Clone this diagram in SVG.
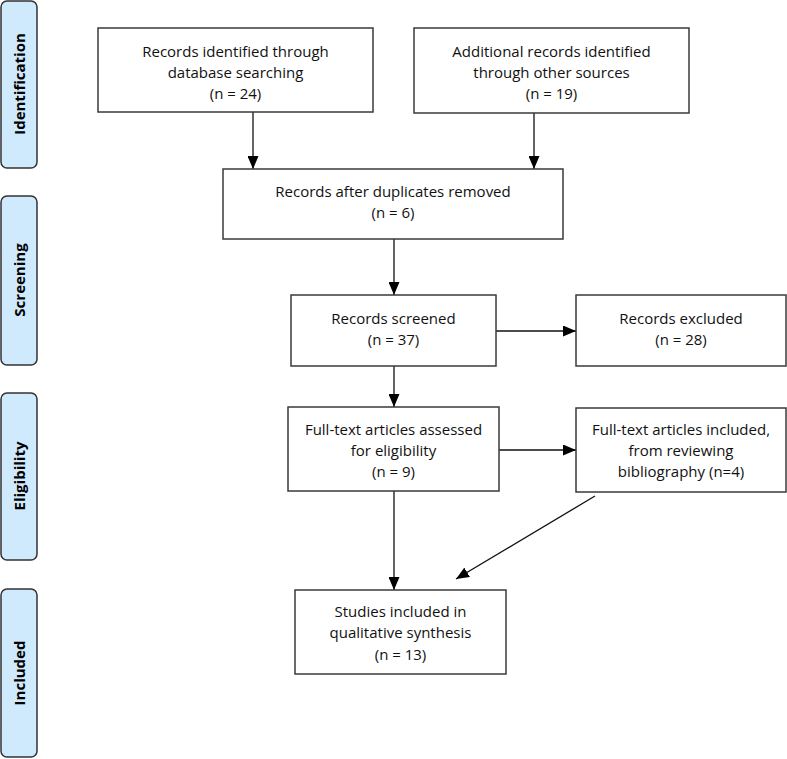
<svg xmlns="http://www.w3.org/2000/svg" width="787" height="759" viewBox="0 0 787 759">
<style>
.band{fill:#cfe9fd;stroke:#333;stroke-width:1.5}
.bl{font-family:"Open Sans","Liberation Sans",sans-serif;font-weight:bold;font-size:15px;fill:#000;text-anchor:middle}
.box{fill:#fff;stroke:#3a3a3a;stroke-width:1.5}
.t{font-family:"Open Sans","Liberation Sans",sans-serif;font-size:15px;fill:#111;text-anchor:middle}
.c{stroke:#111;stroke-width:1.3;fill:none;marker-end:url(#ah)}
</style>
<defs>
<marker id="ah" viewBox="0 0 13 11" refX="13" refY="5.5" markerWidth="13" markerHeight="11" markerUnits="userSpaceOnUse" orient="auto">
<path d="M0,0 L13,5.5 L0,11 Z" fill="#000"/>
</marker>
</defs>
<rect width="787" height="759" fill="#fff"/>
<g id="band-identification"><rect class="band" x="1" y="1" width="36" height="167" rx="6"/><text class="bl" transform="translate(25,84) rotate(-90)">Identification</text></g>
<g id="band-screening"><rect class="band" x="1" y="196" width="36" height="169" rx="6"/><text class="bl" transform="translate(25,280) rotate(-90)">Screening</text></g>
<g id="band-eligibility"><rect class="band" x="1" y="393" width="36" height="167" rx="6"/><text class="bl" transform="translate(25,476) rotate(-90)">Eligibility</text></g>
<g id="band-included"><rect class="band" x="1" y="589" width="36" height="168" rx="6"/><text class="bl" transform="translate(25,673) rotate(-90)">Included</text></g>
<g id="connectors">
<line class="c" x1="253" y1="112" x2="253" y2="169"/>
<line class="c" x1="534" y1="113" x2="534" y2="169"/>
<line class="c" x1="394" y1="239" x2="394" y2="295"/>
<line class="c" x1="496" y1="331" x2="576" y2="331"/>
<line class="c" x1="394" y1="366" x2="394" y2="407"/>
<line class="c" x1="499" y1="450" x2="576" y2="450"/>
<line class="c" x1="394" y1="491" x2="394" y2="590"/>
<line class="c" x1="595" y1="496" x2="456" y2="579"/>
</g>
<g id="n1"><rect class="box" x="98" y="28" width="275" height="84"/><text class="t" x="235.5" y="57">Records identified through</text><text class="t" x="235.5" y="78">database searching</text><text class="t" x="235.5" y="99">(n = 24)</text></g>
<g id="n2"><rect class="box" x="414" y="28" width="275" height="85"/><text class="t" x="551.5" y="57">Additional records identified</text><text class="t" x="551.5" y="78">through other sources</text><text class="t" x="551.5" y="99">(n = 19)</text></g>
<g id="n3"><rect class="box" x="223" y="169" width="340" height="70"/><text class="t" x="393" y="197">Records after duplicates removed</text><text class="t" x="393" y="218">(n = 6)</text></g>
<g id="n4"><rect class="box" x="291" y="295" width="205" height="71"/><text class="t" x="393.5" y="324">Records screened</text><text class="t" x="393.5" y="345">(n = 37)</text></g>
<g id="n5"><rect class="box" x="576" y="295" width="210" height="71"/><text class="t" x="681" y="324">Records excluded</text><text class="t" x="681" y="345">(n = 28)</text></g>
<g id="n6"><rect class="box" x="288" y="407" width="211" height="84"/><text class="t" x="393.5" y="435">Full-text articles assessed</text><text class="t" x="393.5" y="456">for eligibility</text><text class="t" x="393.5" y="477">(n = 9)</text></g>
<g id="n7"><rect class="box" x="576" y="408" width="210" height="84"/><text class="t" x="681" y="435">Full-text articles included,</text><text class="t" x="681" y="456">from reviewing</text><text class="t" x="681" y="477">bibliography (n=4)</text></g>
<g id="n8"><rect class="box" x="295" y="590" width="211" height="84"/><text class="t" x="400.5" y="617">Studies included in</text><text class="t" x="400.5" y="638">qualitative synthesis</text><text class="t" x="400.5" y="660">(n = 13)</text></g>
</svg>
